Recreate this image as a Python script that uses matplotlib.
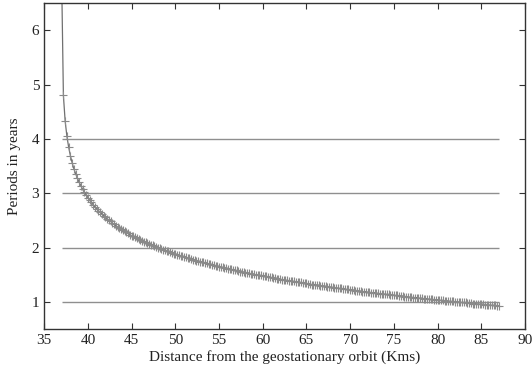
import matplotlib
matplotlib.use("Agg")
import matplotlib.pyplot as plt

plt.rcParams['font.family'] = ['Liberation Serif', 'DejaVu Serif']

# Distance from geostationary orbit (km), step 0.2 from 37.0 to 87.0
x_start = 37.0
x_step = 0.2
periods = [
    6.95, 4.80, 4.33, 4.05, 3.85, 3.69, 3.56, 3.45, 3.36, 3.28,
    3.20, 3.14, 3.07, 3.02, 2.97, 2.92, 2.87, 2.83, 2.79, 2.75,
    2.71, 2.68, 2.65, 2.62, 2.59, 2.56, 2.53, 2.50, 2.48, 2.45,
    2.43, 2.40, 2.38, 2.36, 2.34, 2.32, 2.30, 2.28, 2.26, 2.24,
    2.22, 2.21, 2.19, 2.17, 2.16, 2.14, 2.13, 2.11, 2.10, 2.08,
    2.07, 2.05, 2.04, 2.03, 2.01, 2.00, 1.99, 1.97, 1.96, 1.95,
    1.94, 1.93, 1.92, 1.90, 1.89, 1.88, 1.87, 1.86, 1.85, 1.84,
    1.83, 1.82, 1.81, 1.80, 1.79, 1.78, 1.77, 1.76, 1.75, 1.74,
    1.74, 1.73, 1.72, 1.71, 1.70, 1.69, 1.68, 1.68, 1.67, 1.66,
    1.65, 1.64, 1.64, 1.63, 1.62, 1.61, 1.61, 1.60, 1.59, 1.58,
    1.58, 1.57, 1.56, 1.56, 1.55, 1.54, 1.54, 1.53, 1.52, 1.52,
    1.51, 1.50, 1.50, 1.49, 1.49, 1.48, 1.47, 1.47, 1.46, 1.45,
    1.45, 1.44, 1.44, 1.43, 1.43, 1.42, 1.41, 1.41, 1.40, 1.40,
    1.39, 1.39, 1.38, 1.38, 1.37, 1.37, 1.36, 1.36, 1.35, 1.34,
    1.34, 1.33, 1.33, 1.32, 1.32, 1.32, 1.31, 1.31, 1.30, 1.30,
    1.29, 1.29, 1.28, 1.28, 1.27, 1.27, 1.26, 1.26, 1.25, 1.25,
    1.25, 1.24, 1.24, 1.23, 1.23, 1.22, 1.22, 1.22, 1.21, 1.21,
    1.20, 1.20, 1.19, 1.19, 1.19, 1.18, 1.18, 1.17, 1.17, 1.17,
    1.16, 1.16, 1.15, 1.15, 1.15, 1.14, 1.14, 1.14, 1.13, 1.13,
    1.12, 1.12, 1.12, 1.11, 1.11, 1.11, 1.10, 1.10, 1.09, 1.09,
    1.09, 1.08, 1.08, 1.08, 1.07, 1.07, 1.07, 1.06, 1.06, 1.06,
    1.05, 1.05, 1.05, 1.04, 1.04, 1.04, 1.03, 1.03, 1.03, 1.02,
    1.02, 1.02, 1.01, 1.01, 1.01, 1.00, 1.00, 1.00, 0.99, 0.99,
    0.99, 0.99, 0.98, 0.98, 0.98, 0.97, 0.97, 0.97, 0.96, 0.96,
    0.96, 0.96, 0.95, 0.95, 0.95, 0.94, 0.94, 0.94, 0.94, 0.93,
    0.93,
]
distances = [round(x_start + x_step * i, 1) for i in range(len(periods))]

ref_levels = [1, 2, 3, 4]
ref_xmin, ref_xmax = 37.0, 87.0

xticks = [35, 40, 45, 50, 55, 60, 65, 70, 75, 80, 85, 90]
yticks = [1, 2, 3, 4, 5, 6]

fig = plt.figure(figsize=(5.32, 3.74), dpi=100)
ax = fig.add_axes([0.083, 0.120, 0.904, 0.872])

for lv in ref_levels:
    ax.hlines(lv, ref_xmin, ref_xmax, color='#8f8f8f', linewidth=1.0, zorder=1)

ax.plot(distances, periods, color='#707070', linewidth=0.9, marker='+',
        markersize=5.5, markeredgewidth=0.8, markeredgecolor='#8a8a8a', zorder=2)

ax.set_xlim(35, 90)
ax.set_ylim(0.5, 6.5)
ax.set_xticks(xticks)
ax.set_yticks(yticks)
ax.tick_params(direction='in', top=True, right=True, length=4, width=0.8,
               colors='#333333', labelsize=11, labelcolor='#222222')
for s in ax.spines.values():
    s.set_color('#333333')
    s.set_linewidth(1.0)

ax.set_xlabel('Distance from the geostationary orbit (Kms)', fontsize=11,
              color='#222222', labelpad=2)
ax.set_ylabel('Periods in years', fontsize=11, color='#222222', labelpad=8)

fig.savefig('out.png', dpi=100)
